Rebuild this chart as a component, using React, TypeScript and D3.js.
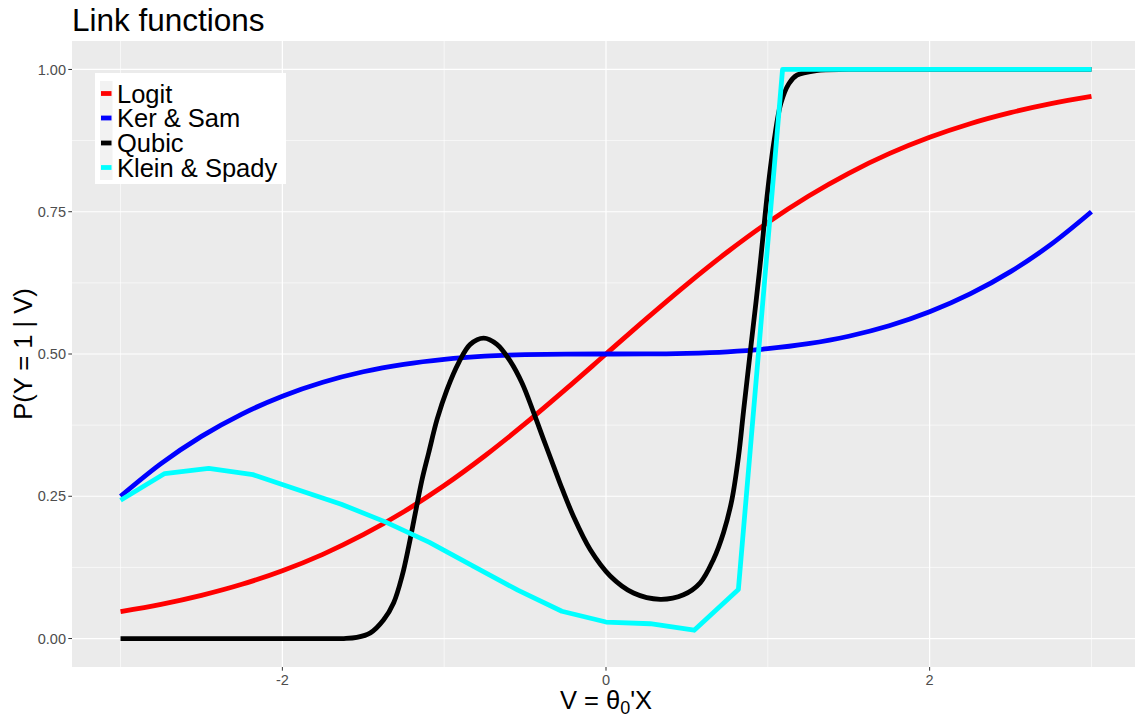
import React from "react";
import * as d3 from "d3";

// ---- data ----
const gridX = [-3, -2.75, -2.5, -2.25, -2, -1.75, -1.5, -1.25, -1, -0.75, -0.5, -0.25, 0, 0.25, 0.5, 0.75, 1, 1.25, 1.5, 1.75, 2, 2.25, 2.5, 2.75, 3];

const logitY = [0.0474, 0.0601, 0.0759, 0.0953, 0.1192, 0.148, 0.1824, 0.2227, 0.2689, 0.3208, 0.3775, 0.4378, 0.5, 0.5622, 0.6225, 0.6792, 0.7311, 0.7773, 0.8176, 0.852, 0.8808, 0.9047, 0.9241, 0.9399, 0.9526];

const kerSamY = [0.25, 0.3074, 0.3553, 0.3945, 0.4259, 0.4504, 0.4688, 0.4819, 0.4907, 0.4961, 0.4988, 0.4999, 0.5, 0.5001, 0.5012, 0.5039, 0.5093, 0.5181, 0.5312, 0.5496, 0.5741, 0.6055, 0.6447, 0.6926, 0.75];

const qubicX = [-3, -2.5, -2, -1.8, -1.62, -1.54, -1.456, -1.374, -1.312, -1.26, -1.219, -1.178, -1.137, -1.096, -1.044, -0.982, -0.91, -0.839, -0.756, -0.674, -0.591, -0.519, -0.447, -0.386, -0.324, -0.283, -0.2, -0.097, 0.026, 0.17, 0.335, 0.479, 0.582, 0.664, 0.726, 0.778, 0.819, 0.85, 0.89, 0.948, 1.0, 1.04, 1.08, 1.13, 1.18, 1.3, 1.5, 2, 2.5, 3];
const qubicY = [0, 0, 0, 0, 0, 0.002, 0.01, 0.033, 0.063, 0.11, 0.162, 0.221, 0.279, 0.326, 0.385, 0.438, 0.485, 0.517, 0.528, 0.517, 0.487, 0.449, 0.397, 0.35, 0.303, 0.272, 0.214, 0.156, 0.11, 0.08, 0.069, 0.077, 0.098, 0.139, 0.186, 0.244, 0.32, 0.4, 0.5, 0.645, 0.789, 0.877, 0.94, 0.975, 0.99, 0.998, 1, 1, 1, 1];

const kleinX = [-3, -2.727, -2.455, -2.182, -1.909, -1.636, -1.364, -1.091, -0.818, -0.545, -0.273, 0, 0.273, 0.545, 0.818, 1.091, 1.364, 1.636, 1.909, 2.182, 2.455, 2.727, 3];
const kleinY = [0.243, 0.29, 0.299, 0.288, 0.262, 0.236, 0.205, 0.169, 0.127, 0.085, 0.048, 0.029, 0.026, 0.0146, 0.086, 1, 1, 1, 1, 1, 1, 1, 1];

const seriesNames = ["Logit", "Ker & Sam", "Qubic", "Klein & Spady"];
const seriesColors = ["#FF0000", "#0000FF", "#000000", "#00FFFF"];

const xTicks = [-2, 0, 2];
const xMinor = [-3, -1, 1, 3];
const yTicks = [0, 0.25, 0.5, 0.75, 1];
const yTickLabels = ["0.00", "0.25", "0.50", "0.75", "1.00"];
const yMinor = [0.125, 0.375, 0.625, 0.875];

type Pt = { x: number; y: number };
const zip = (xs: number[], ys: number[]): Pt[] => xs.map((x, i) => ({ x, y: ys[i] }));

const series: { pts: Pt[]; curve: d3.CurveFactory }[] = [
  { pts: zip(gridX, logitY), curve: d3.curveMonotoneX },
  { pts: zip(gridX, kerSamY), curve: d3.curveMonotoneX },
  { pts: zip(qubicX, qubicY), curve: d3.curveCatmullRom.alpha(0.5) },
  { pts: zip(kleinX, kleinY), curve: d3.curveLinear },
];

const W = 1135;
const H = 716;
const panel = { left: 72, top: 41, right: 1140, bottom: 667 };
const FONT = "'Liberation Sans', Arial, sans-serif";
const LW = 4.8;

export default function App() {
  const x = d3.scaleLinear().domain([-3.3, 3.3]).range([panel.left, panel.right]);
  const y = d3.scaleLinear().domain([-0.05, 1.05]).range([panel.bottom, panel.top]);

  const lineGen = (curve: d3.CurveFactory) =>
    d3
      .line<Pt>()
      .x((d) => x(d.x))
      .y((d) => y(d.y))
      .curve(curve);

  const legendRowY = [93.5, 118, 143, 167.5];

  return (
    <svg
      width={W}
      height={H}
      style={{ position: "absolute", left: 0, top: 0, background: "#FFFFFF" }}
      fontFamily={FONT}
    >
      <defs>
        <clipPath id="panelClip">
          <rect x={panel.left} y={panel.top} width={panel.right - panel.left} height={panel.bottom - panel.top} />
        </clipPath>
      </defs>
      <rect x={0} y={0} width={W} height={H} fill="#FFFFFF" />
      {/* panel background */}
      <rect
        x={panel.left}
        y={panel.top}
        width={panel.right - panel.left}
        height={panel.bottom - panel.top}
        fill="#EBEBEB"
      />
      {/* minor grid */}
      {xMinor.map((v) => (
        <line key={"xm" + v} x1={x(v)} x2={x(v)} y1={panel.top} y2={panel.bottom} stroke="#FFFFFF" strokeWidth={0.6} />
      ))}
      {yMinor.map((v) => (
        <line key={"ym" + v} x1={panel.left} x2={panel.right} y1={y(v)} y2={y(v)} stroke="#FFFFFF" strokeWidth={0.6} />
      ))}
      {/* major grid */}
      {xTicks.map((v) => (
        <line key={"xg" + v} x1={x(v)} x2={x(v)} y1={panel.top} y2={panel.bottom} stroke="#FFFFFF" strokeWidth={1.2} />
      ))}
      {yTicks.map((v) => (
        <line key={"yg" + v} x1={panel.left} x2={panel.right} y1={y(v)} y2={y(v)} stroke="#FFFFFF" strokeWidth={1.2} />
      ))}

      {/* curves */}
      <g clipPath="url(#panelClip)">
        {series.map((s, i) => (
          <path
            key={seriesNames[i]}
            d={lineGen(s.curve)(s.pts) ?? ""}
            fill="none"
            stroke={seriesColors[i]}
            strokeWidth={LW}
            strokeLinejoin="round"
            strokeLinecap="butt"
          />
        ))}
      </g>

      {/* y axis */}
      {yTicks.map((v, i) => (
        <g key={"yt" + v}>
          <line x1={panel.left - 3.7} x2={panel.left} y1={y(v)} y2={y(v)} stroke="#333333" strokeWidth={1} />
          <text
            x={panel.left - 6}
            y={y(v)}
            dy="0.35em"
            textAnchor="end"
            fontSize={14.5}
            fill="#4D4D4D"
          >
            {yTickLabels[i]}
          </text>
        </g>
      ))}
      {/* x axis */}
      {xTicks.map((v) => (
        <g key={"xt" + v}>
          <line x1={x(v)} x2={x(v)} y1={panel.bottom} y2={panel.bottom + 3.7} stroke="#333333" strokeWidth={1} />
          <text x={x(v)} y={panel.bottom + 18} textAnchor="middle" fontSize={14.5} fill="#4D4D4D">
            {v < 0 ? "-" + Math.abs(v) : String(v)}
          </text>
        </g>
      ))}

      {/* axis titles */}
      <text x={x(0)} y={709} textAnchor="middle" fontSize={25.5} fill="#000000">
        V = θ<tspan fontSize={18} dy={4.5}>0</tspan>
        <tspan dy={-4.5}>'X</tspan>
      </text>
      <text
        transform={`translate(32, ${(panel.top + panel.bottom) / 2}) rotate(-90)`}
        textAnchor="middle"
        fontSize={25.5}
        fill="#000000"
      >
        P(Y = 1 | V)
      </text>

      {/* title */}
      <text x={72} y={31} fontSize={31.5} fill="#000000">
        Link functions
      </text>

      {/* legend */}
      <g>
        <rect x={95} y={73} width={191} height={111} fill="#FFFFFF" />
        <rect x={100} y={81} width={12.5} height={99} fill="#F2F2F2" />
        {seriesNames.map((name, i) => (
          <g key={"lg" + name}>
            <line
              x1={101}
              x2={111.5}
              y1={legendRowY[i]}
              y2={legendRowY[i]}
              stroke={seriesColors[i]}
              strokeWidth={LW}
            />
            <text x={117} y={legendRowY[i]} dy="0.36em" fontSize={25.5} fill="#000000">
              {name}
            </text>
          </g>
        ))}
      </g>
    </svg>
  );
}
